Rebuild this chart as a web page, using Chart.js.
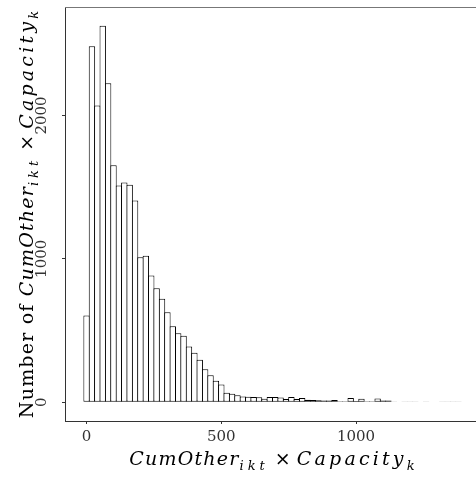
<!DOCTYPE html>
<html><head><meta charset="utf-8">
<script src="https://cdn.jsdelivr.net/npm/chart.js@4/dist/chart.umd.min.js"></script>
<style>html,body{margin:0;padding:0;background:#fff;overflow:hidden}canvas{display:block}</style>
</head><body>
<canvas id="c" width="476" height="482"></canvas>
<script>
// ---- data ----
const binCenters = [0,20,40,60,80,100,120,140,160,180,200,220,240,260,280,300,320,340,360,380,
  400,420,440,460,480,500,520,540,560,580,600,620,640,660,680,700,720,740,760,780,
  800,820,840,860,880,900,920,940,960,980,1000,1020,1040,1060,1080,1100,1120,1140,1160,1180,
  1200,1220,1240,1260,1280,1300,1320,1340,1360,1380];
const counts = [605,2483,2069,2625,2225,1653,1511,1532,1516,1407,
  1011,1021,884,795,721,628,530,481,463,388,
  344,296,230,188,149,123,65,58,49,40,
  38,36,35,24,37,36,32,22,36,22,
  30,17,15,13,12,12,15,7,7,30,
  8,24,7,7,26,12,12,4,3,2,
  2,5,3,4,3,3,2,1,2,2];
const xTicks = [0, 500, 1000];
const yTicks = [0, 1000, 2000];
const xTitleText = ['CumOther', 'ikt', ' \u00d7 ', 'Capacity', 'k'];
const yTitleText = ['Number of ', 'CumOther', 'ikt', ' \u00d7 ', 'Capacity', 'k'];

// ---- styling ----
const xRange = [-80, 1445];
const yRange = [-131.25, 2756.25];
const SERIF = '"DejaVu Serif", "Liberation Serif", serif';
const partStyle = {
  'Number of ': {it:false, sub:false, ls:1.2},
  'CumOther':   {it:true,  sub:false, ls:1.2},
  'ikt':        {it:true,  sub:true,  ls:4},
  ' \u00d7 ':   {it:false, sub:false, ls:0},
  'Capacity':   {it:true,  sub:false, ls:3.2},
  'k':          {it:true,  sub:true,  ls:1}
};
function setPartFont(ctx, s){
  ctx.font = (s.it ? 'italic ' : '') + (s.sub ? '13px ' : '19px ') + SERIF;
  ctx.letterSpacing = s.ls + 'px';
}
function richWidth(ctx, parts){
  let w = 0;
  for (const t of parts){ setPartFont(ctx, partStyle[t]); w += ctx.measureText(t).width; }
  return w;
}
function drawRich(ctx, parts, x, y){
  for (const t of parts){
    const s = partStyle[t];
    setPartFont(ctx, s);
    ctx.fillText(t, x, y + (s.sub ? 5 : 0));
    x += ctx.measureText(t).width;
  }
}
const framePlugin = {
  id: 'frameTop',
  beforeDatasetsDraw(chart){
    const ctx = chart.ctx, a = chart.chartArea;
    ctx.save();
    ctx.strokeStyle = '#777';
    ctx.lineWidth = 1;
    ctx.beginPath();
    ctx.moveTo(a.left, a.top + 0.5);
    ctx.lineTo(chart.width, a.top + 0.5);
    ctx.stroke();
    ctx.restore();
  }
};
const titlePlugin = {
  id: 'titles',
  afterDraw(chart){
    const ctx = chart.ctx, a = chart.chartArea;
    ctx.save();
    ctx.fillStyle = '#000';
    ctx.textBaseline = 'alphabetic';
    ctx.textAlign = 'left';
    const wx = richWidth(ctx, xTitleText);
    drawRich(ctx, xTitleText, 272.5 - wx / 2, 465);
    const wy = richWidth(ctx, yTitleText);
    ctx.translate(33, (a.top + a.bottom) / 2);
    ctx.rotate(-Math.PI / 2);
    drawRich(ctx, yTitleText, -wy / 2, 0);
    ctx.restore();
  }
};

new Chart(document.getElementById('c'), {
  type: 'bar',
  data: {
    datasets: [{
      xAxisID: 'x', yAxisID: 'y',
      data: binCenters.map((c, i) => ({x: c, y: counts[i]})),
      backgroundColor: '#ffffff',
      borderColor: '#000000',
      borderWidth: 1,
      borderSkipped: false,
      barPercentage: 1.186,
      categoryPercentage: 1
    }]
  },
  options: {
    responsive: false,
    animation: false,
    events: [],
    layout: {padding: {top: 7, right: 0, left: 0, bottom: 0}},
    plugins: {legend: {display: false}, tooltip: {enabled: false}},
    scales: {
      x: {
        type: 'linear', position: 'bottom', offset: false,
        min: xRange[0], max: xRange[1],
        afterBuildTicks: s => { s.ticks = xTicks.map(v => ({value: v})); },
        afterFit: s => { s.height = 61; s.paddingLeft = 0; s.paddingRight = 0; },
        grid: {display: true, offset: false, drawOnChartArea: false, drawTicks: true, tickLength: 3, color: '#333', lineWidth: 1},
        border: {display: true, color: '#333', width: 1},
        ticks: {color: '#333', font: {family: SERIF, size: 15}, padding: 4, maxRotation: 0, minRotation: 0,
                callback: v => String(v)}
      },
      y: {
        type: 'linear', position: 'left', offset: false,
        min: yRange[0], max: yRange[1],
        afterBuildTicks: s => { s.ticks = yTicks.map(v => ({value: v})); },
        afterFit: s => { s.width = 65; s.paddingTop = 0; s.paddingBottom = 0; },
        grid: {display: true, offset: false, drawOnChartArea: false, drawTicks: true, tickLength: 3, color: '#333', lineWidth: 1},
        border: {display: true, color: '#333', width: 1},
        ticks: {color: '#333', font: {family: SERIF, size: 15}, minRotation: 90, maxRotation: 90,
                crossAlign: 'center', padding: 1, callback: v => String(v)}
      }
    }
  },
  plugins: [framePlugin, titlePlugin]
});
</script>
</body></html>
